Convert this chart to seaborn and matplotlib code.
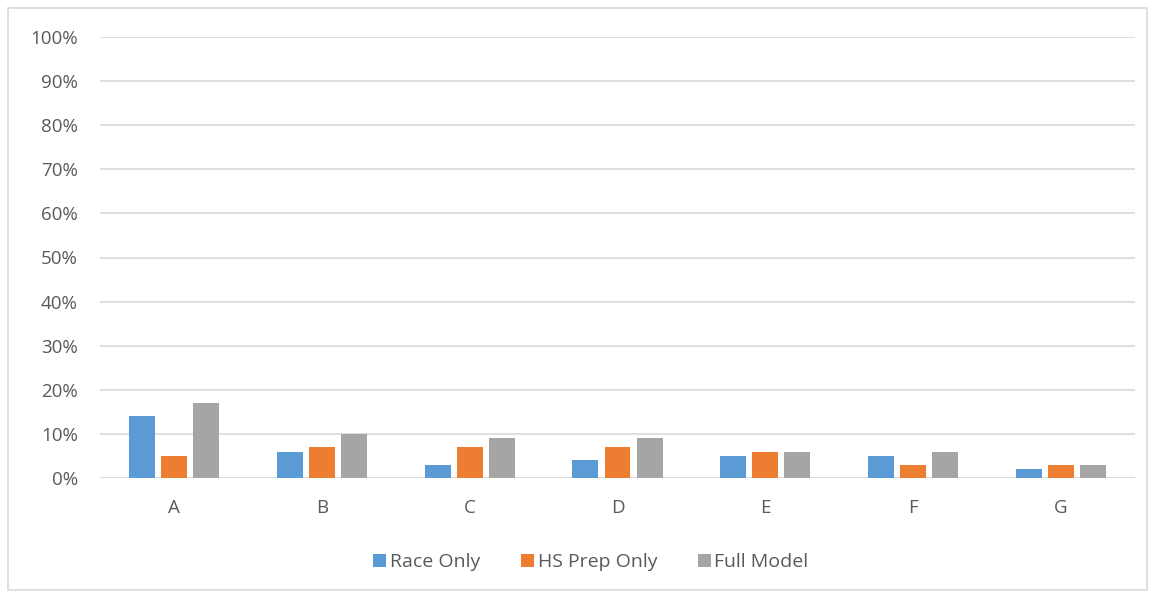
import numpy as np
import pandas as pd
import matplotlib.pyplot as plt
import seaborn as sns
from matplotlib.patches import Rectangle
from matplotlib.ticker import PercentFormatter

# values (percent)
categories = ['A', 'B', 'C', 'D', 'E', 'F', 'G']
race_only = [14, 6, 3, 4, 5, 5, 2]
hs_prep_only = [5, 7, 7, 7, 6, 3, 3]
full_model = [17, 10, 9, 9, 6, 6, 3]
series = ['Race Only', 'HS Prep Only', 'Full Model']
colors = ['#5B9BD5', '#ED7D31', '#A5A5A5']

df = pd.DataFrame({
    'cat': categories * 3,
    'series': np.repeat(series, len(categories)),
    'value': race_only + hs_prep_only + full_model,
})

sns.set_style('white')
plt.rcParams['font.family'] = ['Open Sans', 'DejaVu Sans']
txt = '#595959'

fig = plt.figure(figsize=(11.53, 5.94), dpi=100)
ax = fig.add_axes([100 / 1153, 1 - 478 / 594, 1035 / 1153, 441 / 594])

sns.barplot(data=df, x='cat', y='value', hue='series', hue_order=series,
            palette=colors, saturation=1, width=0.65, gap=0.19, ax=ax,
            legend=True, edgecolor='none', linewidth=0)

ax.set_ylim(0, 100)
ax.set_yticks(range(0, 101, 10))
ax.yaxis.set_major_formatter(PercentFormatter(decimals=0))
ax.grid(axis='y', color='#D9D9D9', linewidth=1.2)
ax.set_axisbelow(True)
for s in ax.spines.values():
    s.set_visible(False)
ax.axhline(0, color='#D9D9D9', linewidth=1.2, zorder=0.5)
ax.set_xlabel('')
ax.set_ylabel('')
ax.tick_params(axis='both', length=0, labelsize=13.5, colors=txt)
ax.tick_params(axis='x', pad=15)
ax.tick_params(axis='y', pad=16)

leg = ax.legend(loc='center', bbox_to_anchor=(591 / 1153, 1 - 562 / 594),
                bbox_transform=fig.transFigure, ncol=3,
                frameon=False, fontsize=14, handlelength=0.65, handleheight=0.65,
                handletextpad=0.2, columnspacing=2.1)
for t in leg.get_texts():
    t.set_color(txt)

fig.patches.append(Rectangle((8 / 1153, 4 / 594), 1139 / 1153, 582 / 594,
                             transform=fig.transFigure, fill=False,
                             edgecolor='#D9D9D9', linewidth=1.2))

fig.savefig('out.png', dpi=100)
